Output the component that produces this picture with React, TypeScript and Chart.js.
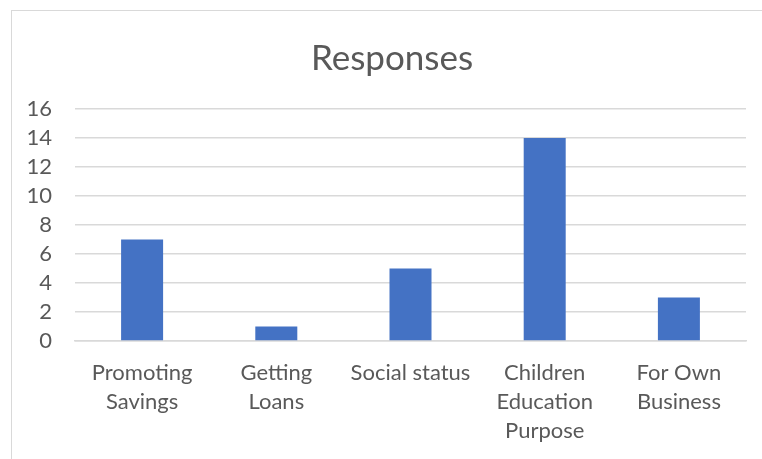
import React, { useEffect, useRef } from "react";
import { Chart, registerables } from "chart.js";

Chart.register(...registerables);

const categories: string[][] = [
  ["Promoting", "Savings"],
  ["Getting", "Loans"],
  ["Social status"],
  ["Children", "Education", "Purpose"],
  ["For Own", "Business"],
];
const responses: number[] = [7, 1, 5, 14, 3];
const titleText = "Responses";

const FONT = "Lato, 'Open Sans', sans-serif";
const TEXT = "#595959";

export default function App() {
  const ref = useRef<HTMLCanvasElement | null>(null);
  useEffect(() => {
    if (!ref.current) return;
    const chart = new Chart(ref.current, {
      type: "bar",
      data: {
        labels: categories,
        datasets: [
          {
            label: titleText,
            data: responses,
            backgroundColor: "#4472C4",
            borderWidth: 0,
            categoryPercentage: 1,
            barPercentage: 0.313,
          },
        ],
      },
      options: {
        animation: false,
        responsive: false,
        maintainAspectRatio: false,
        layout: { padding: { left: 0, right: 16, top: 109, bottom: 0 } },
        plugins: {
          legend: { display: false },
          title: { display: false },
          tooltip: { enabled: false },
        },
        scales: {
          x: {
            grid: { display: false, drawTicks: false },
            border: { display: true, color: "#d9d9d9", width: 1.5 },
            ticks: {
              color: TEXT,
              font: { family: FONT, size: 22, lineHeight: 1.32 },
              padding: 17,
              maxRotation: 0,
              autoSkip: false,
            },
            afterFit: (s: any) => {
              s.height = 118;
            },
          },
          y: {
            min: 0,
            max: 16,
            ticks: {
              stepSize: 2,
              autoSkip: false,
              color: TEXT,
              font: { family: FONT, size: 22 },
              padding: 23,
            },
            grid: { color: "#d9d9d9", lineWidth: 1.5, drawTicks: false },
            border: { display: false },
            afterFit: (s: any) => {
              s.width = 75;
            },
          },
        },
      },
    });
    return () => chart.destroy();
  }, []);
  return (
    <div style={{ position: "fixed", left: 0, top: 0, width: 762, height: 459, background: "#fff", overflow: "hidden" }}>
      <div
        style={{
          position: "absolute",
          left: 11,
          top: 10,
          width: 800,
          height: 500,
          borderLeft: "1.5px solid #d9d9d9",
          borderTop: "1.5px solid #d9d9d9",
        }}
      />
      <canvas ref={ref} width={762} height={459} style={{ position: "absolute", left: 0, top: 0 }} />
      <div
        style={{
          position: "absolute",
          left: 0,
          width: 784,
          top: 35,
          textAlign: "center",
          fontFamily: FONT,
          fontSize: 35,
          lineHeight: "42px",
          color: TEXT,
        }}
      >
        {titleText}
      </div>
    </div>
  );
}
